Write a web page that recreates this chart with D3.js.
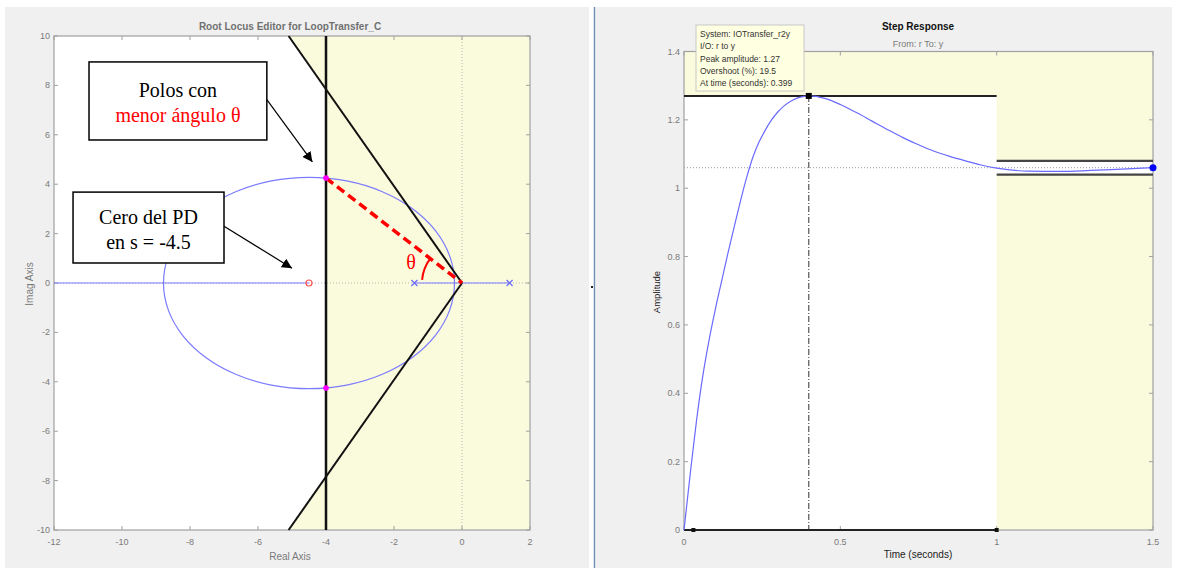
<!DOCTYPE html>
<html><head><meta charset="utf-8">
<script src="https://cdn.jsdelivr.net/npm/d3@7"></script>
<style>body{margin:0;background:#fff}svg{display:block;font-family:"Liberation Sans",Arial,sans-serif}</style>
</head><body>
<svg id="c" width="1178" height="571"></svg>
<script>
// ---------- data: root locus ----------
const rlTicksX = [-12,-10,-8,-6,-4,-2,0,2];
const rlTicksY = [-10,-8,-6,-4,-2,0,2,4,6,8,10];
const olPoles = [-1.4, 1.4];
const olZeros = [-4.5];
// upper branch of the locus circle (real, imag)
const locusRe = [-0.22,-0.366,-0.793,-1.474,-2.36,-3.392,-4.5,-5.608,-6.64,-7.526,-8.207,-8.634,-8.78];
const locusIm = [0,1.108,2.14,3.026,3.707,4.134,4.28,4.134,3.707,3.026,2.14,1.108,0];
const clRe = [-4, -4];
const clIm = [4.25, -4.25];
const sigmaMax = -4;          // settling-time constraint
const coneRe = -5.1, coneIm = 10; // damping-cone boundary point
// ---------- data: step response ----------
const stepT = [0,0.02,0.04,0.06,0.08,0.1,0.12,0.14,0.16,0.18,0.2,0.22,0.24,0.26,0.28,0.3,0.32,0.34,0.36,0.38,0.399,0.45,0.5,0.55,0.6,0.65,0.7,0.75,0.8,0.85,0.9,0.95,1.0,1.1,1.2,1.3,1.4,1.5];
const stepY = [0,0.165,0.32,0.45,0.555,0.645,0.727,0.808,0.885,0.96,1.03,1.09,1.135,1.17,1.2,1.223,1.241,1.254,1.263,1.268,1.27,1.263,1.245,1.222,1.197,1.172,1.148,1.127,1.108,1.093,1.08,1.068,1.059,1.05,1.049,1.052,1.056,1.06];
const srTicksX = [0,0.5,1,1.5];
const srTicksY = [0,0.2,0.4,0.6,0.8,1,1.2,1.4];
const peakT = 0.399, peakY = 1.27, finalY = 1.06, bandLo = 1.04, bandHi = 1.08, settleT = 1;
const tipLines = ["System: IOTransfer_r2y","I/O: r to y","Peak amplitude: 1.27","Overshoot (%): 19.5","At time (seconds): 0.399"];

const svg = d3.select("#c");
const YEL = "#fafadc", AX = "#a0a0a0", TXT = "#7a7a7a";
const SERIF = "'Liberation Serif','Times New Roman',serif";

// backgrounds
svg.append("rect").attr("x",5).attr("y",7).attr("width",584).attr("height",561).attr("fill","#f0f0f0");
svg.append("rect").attr("x",596).attr("y",7).attr("width",576).attr("height",561).attr("fill","#f0f0f0");
svg.append("line").attr("x1",594.5).attr("x2",594.5).attr("y1",7).attr("y2",568).attr("stroke","#6f8fb5").attr("stroke-width",1.5);
svg.append("rect").attr("x",591).attr("y",286).attr("width",2).attr("height",2).attr("fill","#222");

function frame(g, x, y, tx, ty, fmtX, fmtY){
  const [x0,x1] = x.range(), [y1,y0] = y.range();
  g.append("rect").attr("x",x0).attr("y",y0).attr("width",x1-x0).attr("height",y1-y0)
    .attr("fill","none").attr("stroke",AX).attr("stroke-width",1.2);
  tx.forEach(v=>{
    g.append("line").attr("x1",x(v)).attr("x2",x(v)).attr("y1",y1).attr("y2",y1-4).attr("stroke",AX);
    g.append("line").attr("x1",x(v)).attr("x2",x(v)).attr("y1",y0).attr("y2",y0+4).attr("stroke",AX);
    g.append("text").attr("x",x(v)).attr("y",y1+15).attr("text-anchor","middle").attr("font-size",9).attr("fill",TXT).text(fmtX(v));
  });
  ty.forEach(v=>{
    g.append("line").attr("y1",y(v)).attr("y2",y(v)).attr("x1",x0).attr("x2",x0+4).attr("stroke",AX);
    g.append("line").attr("y1",y(v)).attr("y2",y(v)).attr("x1",x1).attr("x2",x1-4).attr("stroke",AX);
    g.append("text").attr("x",x0-4).attr("y",y(v)+3).attr("text-anchor","end").attr("font-size",9).attr("fill",TXT).text(fmtY(v));
  });
}

// ================= ROOT LOCUS =================
const x = d3.scaleLinear().domain([-12,2]).range([54,530]);
const y = d3.scaleLinear().domain([-10,10]).range([530,36]);
const L = svg.append("g");
L.append("rect").attr("x",x(-12)).attr("y",y(10)).attr("width",x(2)-x(-12)).attr("height",y(-10)-y(10)).attr("fill",YEL);
const coneAt = Math.abs(sigmaMax)*coneIm/Math.abs(coneRe);
const white = [[-12,10],[coneRe,10],[sigmaMax,coneAt],[sigmaMax,-coneAt],[coneRe,-10],[-12,-10]];
L.append("path").attr("d",d3.line().x(d=>x(d[0])).y(d=>y(d[1]))(white)+"Z").attr("fill","#fff");
// dotted zero lines
L.append("line").attr("x1",x(-12)).attr("x2",x(2)).attr("y1",y(0)).attr("y2",y(0)).attr("stroke","#b8b8b8").attr("stroke-dasharray","1,2");
L.append("line").attr("x1",x(0)).attr("x2",x(0)).attr("y1",y(10)).attr("y2",y(-10)).attr("stroke","#b8b8b8").attr("stroke-dasharray","1,2");
frame(L, x, y, rlTicksX, rlTicksY, d=>d, d=>d);
// locus
const BL = "#7b7bff";
L.append("line").attr("x1",x(-12)).attr("x2",x(olZeros[0])).attr("y1",y(0)).attr("y2",y(0)).attr("stroke",BL).attr("stroke-width",1.2);
L.append("line").attr("x1",x(olPoles[0])).attr("x2",x(olPoles[1])).attr("y1",y(0)).attr("y2",y(0)).attr("stroke",BL).attr("stroke-width",1.2);
const upper = locusRe.map((r,i)=>[r,locusIm[i]]);
const lower = upper.slice(1,-1).reverse().map(p=>[p[0],-p[1]]);
L.append("path").attr("d",d3.line().x(d=>x(d[0])).y(d=>y(d[1])).curve(d3.curveCatmullRomClosed)(upper.concat(lower)))
  .attr("fill","none").attr("stroke",BL).attr("stroke-width",1.2);
// constraint lines
L.append("line").attr("x1",x(sigmaMax)).attr("x2",x(sigmaMax)).attr("y1",y(10)).attr("y2",y(-10)).attr("stroke","#111").attr("stroke-width",2.5);
[1,-1].forEach(s=>L.append("line").attr("x1",x(0)).attr("y1",y(0)).attr("x2",x(coneRe)).attr("y2",y(s*coneIm)).attr("stroke","#111").attr("stroke-width",2));
// poles / zero
olPoles.forEach(p=>{const cx=x(p),cy=y(0);
  L.append("path").attr("d",`M${cx-3},${cy-3}L${cx+3},${cy+3}M${cx-3},${cy+3}L${cx+3},${cy-3}`).attr("stroke","#6a6aff").attr("stroke-width",1.2);});
olZeros.forEach(z=>L.append("circle").attr("cx",x(z)).attr("cy",y(0)).attr("r",3).attr("fill","none").attr("stroke","#ff5050").attr("stroke-width",1.2));
// red dashed line and theta
L.append("line").attr("x1",x(clRe[0])).attr("y1",y(clIm[0])).attr("x2",x(0)).attr("y2",y(0)).attr("stroke","#ff0000").attr("stroke-width",3.5).attr("stroke-dasharray","9,5");
const ang = Math.atan2(y(0)-y(clIm[0]), x(0)-x(clRe[0]));
L.append("path").attr("transform",`translate(${x(0)},${y(0)})`)
  .attr("d",d3.arc().innerRadius(40).outerRadius(40).startAngle(1.5*Math.PI+0.08).endAngle(1.5*Math.PI+ang-0.02)())
  .attr("fill","none").attr("stroke","#ff0000").attr("stroke-width",2);
L.append("text").attr("x",x(-1.5)).attr("y",y(0.55)).attr("text-anchor","middle").style("font-family",SERIF).attr("font-size",20).attr("fill","#ff0000").text("θ");
clRe.forEach((r,i)=>L.append("circle").attr("cx",x(r)).attr("cy",y(clIm[i])).attr("r",2.8).attr("fill","#ff00ff"));
// titles
svg.append("text").attr("x",290).attr("y",30).attr("text-anchor","middle").attr("font-size",10).attr("font-weight","bold").attr("fill","#707070").text("Root Locus Editor for LoopTransfer_C");
svg.append("text").attr("x",290).attr("y",560).attr("text-anchor","middle").attr("font-size",10).attr("fill",TXT).text("Real Axis");
svg.append("text").attr("transform","translate(33,284) rotate(-90)").attr("text-anchor","middle").attr("font-size",10).attr("fill",TXT).text("Imag Axis");
// annotations
const defs = svg.append("defs");
defs.append("marker").attr("id","ah").attr("viewBox","0 0 10 10").attr("refX",10).attr("refY",5).attr("markerWidth",10).attr("markerHeight",10).attr("orient","auto").attr("markerUnits","userSpaceOnUse")
  .append("path").attr("d","M0,0L10,5L0,10Z").attr("fill","#000");
const notes = [
  {box:[-10.97,8.95,-5.74,5.79], from:[-5.74,7.42], to:[-4.4,4.9], lines:[["Polos con","#000"],["menor ángulo θ","#ff0000"]]},
  {box:[-11.44,3.68,-7.0,0.81], from:[-7.0,2.3], to:[-5.0,0.6], lines:[["Cero del PD","#000"],["en s = -4.5","#000"]]}
];
notes.forEach(n=>{
  const [r0,i0,r1,i1]=n.box;
  svg.append("rect").attr("x",x(r0)).attr("y",y(i0)).attr("width",x(r1)-x(r0)).attr("height",y(i1)-y(i0)).attr("fill","#fff").attr("stroke","#000").attr("stroke-width",1.5);
  svg.append("line").attr("x1",x(n.from[0])).attr("y1",y(n.from[1])).attr("x2",x(n.to[0])).attr("y2",y(n.to[1])).attr("stroke","#000").attr("stroke-width",1.2).attr("marker-end","url(#ah)");
  const cx=(x(r0)+x(r1))/2, h=y(i1)-y(i0);
  n.lines.forEach((l,k)=>svg.append("text").attr("x",cx).attr("y",y(i0)+h/2-4+k*25).attr("text-anchor","middle").style("font-family",SERIF).attr("font-size",20).attr("fill",l[1]).text(l[0]));
});

// ================= STEP RESPONSE =================
const sx = d3.scaleLinear().domain([0,1.5]).range([684,1153]);
const sy = d3.scaleLinear().domain([0,1.4]).range([530,51.5]);
const R = svg.append("g");
R.append("rect").attr("x",sx(0)).attr("y",sy(1.4)).attr("width",sx(1.5)-sx(0)).attr("height",sy(0)-sy(1.4)).attr("fill","#fff");
R.append("rect").attr("x",sx(0)).attr("y",sy(1.4)).attr("width",sx(settleT)-sx(0)).attr("height",sy(peakY)-sy(1.4)).attr("fill",YEL);
R.append("rect").attr("x",sx(settleT)).attr("y",sy(1.4)).attr("width",sx(1.5)-sx(settleT)).attr("height",sy(bandHi)-sy(1.4)).attr("fill",YEL);
R.append("rect").attr("x",sx(settleT)).attr("y",sy(bandLo)).attr("width",sx(1.5)-sx(settleT)).attr("height",sy(0)-sy(bandLo)).attr("fill",YEL);
R.append("line").attr("x1",sx(0)).attr("x2",sx(1.5)).attr("y1",sy(finalY)).attr("y2",sy(finalY)).attr("stroke","#999").attr("stroke-dasharray","1,2");
frame(R, sx, sy, srTicksX, srTicksY, d=>d, d=>d);
R.append("line").attr("x1",sx(peakT)).attr("x2",sx(peakT)).attr("y1",sy(peakY)).attr("y2",sy(0)).attr("stroke","#555").attr("stroke-width",1.2).attr("stroke-dasharray","6,2,1,2");
R.append("line").attr("x1",sx(0)).attr("x2",sx(settleT)).attr("y1",sy(peakY)).attr("y2",sy(peakY)).attr("stroke","#222").attr("stroke-width",2);
R.append("line").attr("x1",sx(0)).attr("x2",sx(settleT)).attr("y1",sy(0)).attr("y2",sy(0)).attr("stroke","#222").attr("stroke-width",2);
[0.03,settleT].forEach(t=>R.append("rect").attr("x",sx(t)-2).attr("y",sy(0)-2).attr("width",4).attr("height",4).attr("fill","#111"));
[bandHi,bandLo].forEach(v=>R.append("line").attr("x1",sx(settleT)).attr("x2",sx(1.5)).attr("y1",sy(v)).attr("y2",sy(v)).attr("stroke","#444").attr("stroke-width",2.2));
R.append("path").attr("d",d3.line().x((d,i)=>sx(stepT[i])).y(d=>sy(d)).curve(d3.curveMonotoneX)(stepY))
  .attr("fill","none").attr("stroke","#6a6aff").attr("stroke-width",1.2);
R.append("rect").attr("x",sx(peakT)-3).attr("y",sy(peakY)-3).attr("width",6).attr("height",6).attr("fill","#000");
R.append("circle").attr("cx",sx(stepT[stepT.length-1])).attr("cy",sy(stepY[stepY.length-1])).attr("r",3.5).attr("fill","#0000ff");
// tooltip
R.append("rect").attr("x",696).attr("y",25).attr("width",108).attr("height",66).attr("fill","#ffffe1").attr("stroke","#c8c8c8");
tipLines.forEach((t,i)=>R.append("text").attr("x",700).attr("y",37+i*12.3).attr("font-size",8.5).attr("fill","#333").text(t));
svg.append("text").attr("x",918).attr("y",30).attr("text-anchor","middle").attr("font-size",10).attr("font-weight","bold").attr("fill","#111").text("Step Response");
svg.append("text").attr("x",918).attr("y",47).attr("text-anchor","middle").attr("font-size",9).attr("fill",TXT).text("From: r  To: y");
svg.append("text").attr("x",918).attr("y",558).attr("text-anchor","middle").attr("font-size",10).attr("fill","#222").text("Time (seconds)");
svg.append("text").attr("transform","translate(660,292) rotate(-90)").attr("text-anchor","middle").attr("font-size",9.5).attr("fill","#222").text("Amplitude");
</script>
</body></html>
